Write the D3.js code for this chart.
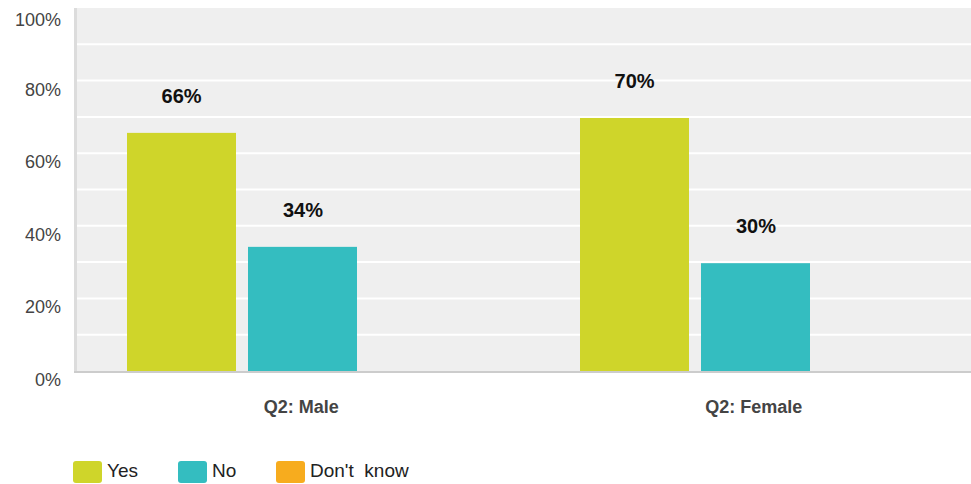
<!DOCTYPE html>
<html>
<head>
<meta charset="utf-8">
<script src="https://cdn.jsdelivr.net/npm/d3@7"></script>
<style>
  html, body { margin: 0; padding: 0; background: #fff; }
  svg { display: block; font-family: "Liberation Sans", Arial, sans-serif; }
</style>
</head>
<body>
<svg id="chart" width="971" height="484"></svg>
<script>
const categories = ["Q2: Male", "Q2: Female"];
const seriesNames = ["Yes", "No", "Don't  know"];
const yesValues = [65.6, 69.7];
const noValues = [34.2, 29.7];
const dontKnowValues = [0, 0];
const seriesColors = ["#cfd52a", "#34bdc0", "#f7ac1e"];
const yTickValues = [0, 20, 40, 60, 80, 100];
const gridValues = [10, 20, 30, 40, 50, 60, 70, 80, 90];

const seriesValues = [yesValues, noValues, dontKnowValues];

const svg = d3.select("#chart");
const W = 971, H = 484;
const plotLeft = 77, plotTop = 8, plotBottom = 371;

const x0 = d3.scaleBand().domain(categories).range([plotLeft, plotLeft + 905]).padding(0);
const x1 = d3.scaleBand().domain(seriesNames).range([50, 402]).paddingInner(0.1).paddingOuter(0);
const y = d3.scaleLinear().domain([0, 100]).range([plotBottom, plotTop]);

// plot background
svg.append("rect")
  .attr("x", plotLeft).attr("y", plotTop)
  .attr("width", W - plotLeft).attr("height", plotBottom - plotTop)
  .attr("fill", "#efefef");

// gridlines
svg.append("g").selectAll("line").data(gridValues).join("line")
  .attr("x1", plotLeft).attr("x2", W)
  .attr("y1", d => y(d)).attr("y2", d => y(d))
  .attr("stroke", "#ffffff").attr("stroke-width", 2);

// bars
const rows = categories.map((c, i) => ({ cat: c, vals: seriesNames.map((s, j) => ({ s, j, v: seriesValues[j][i] })) }));
const groups = svg.append("g").selectAll("g").data(rows).join("g")
  .attr("transform", d => `translate(${Math.round(x0(d.cat))},0)`);
groups.selectAll("rect").data(d => d.vals.filter(v => v.v > 0)).join("rect")
  .attr("x", d => Math.round(x1(d.s))).attr("width", Math.floor(x1.bandwidth()))
  .attr("y", d => y(d.v)).attr("height", d => y(0) - y(d.v))
  .attr("fill", d => seriesColors[d.j]);
groups.selectAll("text").data(d => d.vals.filter(v => v.v > 0)).join("text")
  .attr("x", d => x1(d.s) + x1.bandwidth() / 2)
  .attr("y", d => y(d.v) - 37)
  .attr("text-anchor", "middle").attr("dominant-baseline", "central")
  .attr("font-size", 20).attr("font-weight", "bold").attr("fill", "#111")
  .text(d => Math.round(d.v) + "%");

// axes lines
svg.append("line").attr("x1", 75.5).attr("x2", 75.5).attr("y1", plotTop).attr("y2", plotBottom + 2)
  .attr("stroke", "#dcdcdc").attr("stroke-width", 3);
svg.append("line").attr("x1", 74).attr("x2", W).attr("y1", plotBottom + 1).attr("y2", plotBottom + 1)
  .attr("stroke", "#cccccc").attr("stroke-width", 2);

// y tick labels
svg.append("g").selectAll("text").data(yTickValues).join("text")
  .attr("x", 61)
  .attr("y", d => y(d) + 9 + (d === 100 ? 3 : 0))
  .attr("text-anchor", "end").attr("dominant-baseline", "central")
  .attr("font-size", 18).attr("fill", "#444")
  .text(d => d + "%");

// category labels
svg.append("g").selectAll("text").data(categories).join("text")
  .attr("x", d => x0(d) + x0.bandwidth() / 2 - 2)
  .attr("y", 407)
  .attr("text-anchor", "middle").attr("dominant-baseline", "central")
  .attr("font-size", 18).attr("font-weight", "bold").attr("fill", "#444")
  .text(d => d);

// legend
const legendX = [73, 178, 276];
const lg = svg.append("g").selectAll("g").data(seriesNames).join("g")
  .attr("transform", (d, i) => `translate(${legendX[i]},461)`);
lg.append("rect").attr("width", 29).attr("height", 22).attr("rx", 3)
  .attr("fill", (d, i) => seriesColors[i]);
lg.append("text").attr("x", 34).attr("y", 9)
  .attr("dominant-baseline", "central").attr("font-size", 19).attr("fill", "#222")
  .attr("xml:space", "preserve").style("white-space", "pre")
  .text(d => d);
</script>
</body>
</html>
